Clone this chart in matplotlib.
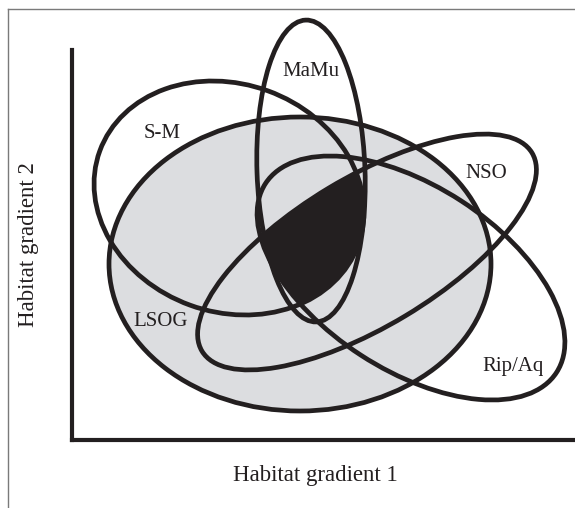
import numpy as np
import matplotlib.pyplot as plt
from matplotlib.patches import Ellipse

# Habitat envelopes (figure pixel units, y measured downward)
names = ['LSOG', 'S-M', 'MaMu', 'NSO', 'Rip/Aq']
cx = [300, 229, 311, 367, 411]
cy = [264, 198, 171, 252, 278]
widths = [382, 275, 108, 385, 347]
heights = [294, 228, 302, 149, 184]
angles = [0, 20, -2, -31, 33]

# label positions
label_x = [161, 162, 311, 486, 513]
label_y = [321, 133, 72, 173, 366]

ink = '#231f20'
grey = '#dcdde0'

fig = plt.figure(figsize=(5.75, 5.08), dpi=100)
ax = fig.add_axes([0, 0, 1, 1])
ax.set_xlim(0, 575)
ax.set_ylim(508, 0)
ax.axis('off')

# thin frame (top and left only)
ax.plot([8, 8], [508, 9], color='#7a7a7a', lw=1.0)
ax.plot([8, 575], [9, 9], color='#7a7a7a', lw=1.0)

# grey LSOG area
ax.add_patch(Ellipse((cx[0], cy[0]), widths[0], heights[0], angle=angles[0],
                     facecolor=grey, edgecolor='none', zorder=1))

# black area = overlap of all envelopes
X, Y = np.meshgrid(np.linspace(0, 575, 1151), np.linspace(0, 508, 1017))
F = np.zeros_like(X)
for i in range(len(names)):
    t = np.radians(angles[i])
    dx, dy = X - cx[i], Y - cy[i]
    u = dx * np.cos(t) + dy * np.sin(t)
    v = -dx * np.sin(t) + dy * np.cos(t)
    F = np.maximum(F, (u / (widths[i] / 2))**2 + (v / (heights[i] / 2))**2)
ax.contourf(X, Y, F, levels=[0, 1], colors=[ink], zorder=2)

# outlines
for i in range(len(names)):
    ax.add_patch(Ellipse((cx[i], cy[i]), widths[i], heights[i], angle=angles[i],
                         fill=False, edgecolor=ink, lw=3.4, zorder=3))
    ax.text(label_x[i], label_y[i], names[i], ha='center', va='center',
            fontsize=15, family='Liberation Serif', color=ink, zorder=4)

# axes
ax.plot([72, 72], [50, 440], color=ink, lw=3, solid_capstyle='projecting', zorder=4)
ax.plot([72, 575], [440, 440], color=ink, lw=3, solid_capstyle='projecting', zorder=4)

ax.text(315, 475, 'Habitat gradient 1', ha='center', va='center',
        fontsize=16.5, family='Liberation Serif', color=ink)
ax.text(29, 245, 'Habitat gradient 2', ha='center', va='center', rotation=90,
        fontsize=16.5, family='Liberation Serif', color=ink)

plt.savefig('out.png', dpi=100)
